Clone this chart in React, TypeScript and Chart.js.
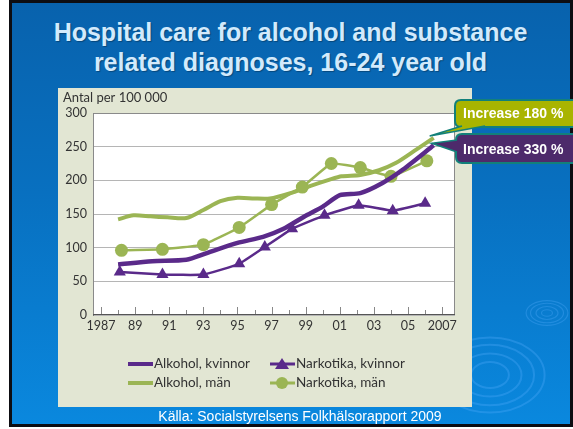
import React, { useEffect, useRef } from "react";
import { Chart, registerables } from "chart.js";
Chart.register(...registerables);

// ---- data ----
const yearTickValues = [1987, 1989, 1991, 1993, 1995, 1997, 1999, 2001, 2003, 2005, 2007];
const alkKvYears = [1988, 1990, 1992, 1993.2, 1995, 1996.5, 1997.7, 1998.9, 2000, 2001, 2002.2, 2003.5, 2004.7, 2006.5];
const alkKvValues = [75, 80, 82, 92, 107, 116, 128, 146, 161, 178, 181, 196, 216, 252];
const alkManYears = [1988, 1988.9, 1989.9, 1990.9, 1992, 1993, 1994, 1995, 1996, 1996.9, 1998.1, 1999.2, 2000.4, 2001.1, 2002.2, 2003.3, 2004.3, 2005.5, 2006.5];
const alkManValues = [142, 148, 146.5, 145, 144, 156, 169, 174, 173, 173, 181, 191, 201, 206, 208, 215, 226, 246, 263];
const narkKvYears = [1988.1, 1990.6, 1993, 1995.1, 1996.6, 1998.2, 2000.1, 2002.1, 2004.1, 2006];
const narkKvValues = [64, 60, 60, 76, 101, 128, 148, 163, 155, 166];
const narkManYears = [1988.2, 1990.6, 1993, 1995.1, 1997, 1998.8, 2000.5, 2002.2, 2004, 2006.1];
const narkManValues = [96, 97.5, 104.5, 130, 164, 190, 225, 219, 206, 229];

const seriesLabels = ["Alkohol, kvinnor", "Alkohol, män", "Narkotika, kvinnor", "Narkotika, män"];
const calloutTexts = ["Increase 180 %", "Increase 330 %"];
const yAxisTitle = "Antal per 100 000";
const titleLines = ["Hospital care for alcohol and substance", "related diagnoses, 16-24 year old"];
const sourceText = "Källa: Socialstyrelsens Folkhälsorapport 2009";

const PURPLE = "#5a2a8a";
const GREEN = "#9bb554";
const FONT = "Lato, 'Open Sans', sans-serif";

const zip = (xs: number[], ys: number[]) => xs.map((x, i) => ({ x, y: ys[i] }));

const decorPlugin = {
  id: "decor",
  beforeDraw(chart: any) {
    const { ctx, chartArea } = chart;
    ctx.save();
    // ripples
    ctx.strokeStyle = "rgba(90,175,255,0.3)";
    ctx.lineWidth = 2;
    [18, 30, 42, 52].forEach((r) => {
      ctx.beginPath();
      ctx.ellipse(490, 375, r * 1.05, r * 0.72, 0, 0, Math.PI * 2);
      ctx.stroke();
    });
    ctx.lineWidth = 1.2;
    [5, 10, 15, 19].forEach((r) => {
      ctx.beginPath();
      ctx.ellipse(547, 313, r * 1.1, r * 0.65, 0, 0, Math.PI * 2);
      ctx.stroke();
    });
    // panel
    ctx.fillStyle = "#e2e6d3";
    ctx.fillRect(58, 88, 414, 319);
    ctx.fillStyle = "#ffffff";
    ctx.fillRect(chartArea.left, chartArea.top, chartArea.right - chartArea.left, chartArea.bottom - chartArea.top);
    // y axis title
    ctx.fillStyle = "#333";
    ctx.font = `13px ${FONT}`;
    ctx.textBaseline = "middle";
    ctx.textAlign = "left";
    ctx.fillText(yAxisTitle, 63, 98);
    ctx.restore();
  },
  afterDraw(chart: any) {
    const { ctx, chartArea, scales } = chart;
    const xs = scales.x;
    ctx.save();
    // plot frame
    ctx.strokeStyle = "#8a8a8a";
    ctx.lineWidth = 1;
    ctx.beginPath();
    ctx.moveTo(chartArea.left + 0.5, chartArea.bottom);
    ctx.lineTo(chartArea.left + 0.5, chartArea.top + 0.5);
    ctx.lineTo(chartArea.right - 0.5, chartArea.top + 0.5);
    ctx.lineTo(chartArea.right - 0.5, chartArea.bottom);
    ctx.stroke();
    // minor ticks inside
    ctx.strokeStyle = "#888";
    for (let yr = 1987; yr <= 2007; yr++) {
      const px = Math.round(xs.getPixelForValue(yr)) + 0.5;
      const len = yr % 2 === 1 ? 8 : 5;
      ctx.beginPath();
      ctx.moveTo(px, chartArea.bottom);
      ctx.lineTo(px, chartArea.bottom - len);
      ctx.stroke();
    }
    ctx.strokeStyle = "#555";
    ctx.beginPath();
    ctx.moveTo(chartArea.left, chartArea.bottom - 0.5);
    ctx.lineTo(chartArea.right, chartArea.bottom - 0.5);
    ctx.stroke();

    // legend
    const rows = [364, 383];
    const items = [
      { i: 0, x: 128, row: 0 },
      { i: 2, x: 270, row: 0 },
      { i: 1, x: 128, row: 1 },
      { i: 3, x: 270, row: 1 },
    ];
    ctx.font = `13.5px ${FONT}`;
    ctx.textBaseline = "middle";
    ctx.textAlign = "left";
    items.forEach((it) => {
      const ds = chart.data.datasets[it.i];
      const y = rows[it.row];
      ctx.strokeStyle = ds.borderColor;
      ctx.lineWidth = it.i < 2 ? 4 : 3;
      ctx.beginPath();
      ctx.moveTo(it.x, y);
      ctx.lineTo(it.x + 25, y);
      ctx.stroke();
      if (it.i === 2) {
        ctx.fillStyle = PURPLE;
        ctx.beginPath();
        ctx.moveTo(it.x + 12, y - 6);
        ctx.lineTo(it.x + 19, y + 5);
        ctx.lineTo(it.x + 5, y + 5);
        ctx.closePath();
        ctx.fill();
      } else if (it.i === 3) {
        ctx.fillStyle = GREEN;
        ctx.beginPath();
        ctx.arc(it.x + 12, y, 6, 0, Math.PI * 2);
        ctx.fill();
      }
      ctx.fillStyle = "#333";
      ctx.fillText(ds.label, it.x + 26, y);
    });

    // callouts
    const ysc = scales.y;
    const gEnd = alkManYears.length - 1;
    const pEnd = alkKvYears.length - 1;
    const gTip = { x: xs.getPixelForValue(alkManYears[gEnd]) - 4, y: ysc.getPixelForValue(alkManValues[gEnd]) - 2 };
    const pTip = { x: xs.getPixelForValue(alkKvYears[pEnd]) - 2, y: ysc.getPixelForValue(alkKvValues[pEnd]) - 2 };
    const box = (x: number, y: number, w: number, h: number, fill: string) => {
      const r = 6;
      ctx.beginPath();
      ctx.moveTo(x + w, y);
      ctx.lineTo(x + r, y);
      ctx.quadraticCurveTo(x, y, x, y + r);
      ctx.lineTo(x, y + h - r);
      ctx.quadraticCurveTo(x, y + h, x + r, y + h);
      ctx.lineTo(x + w, y + h);
      ctx.fillStyle = fill;
      ctx.fill();
      ctx.strokeStyle = "#12807a";
      ctx.lineWidth = 2;
      ctx.stroke();
    };
    const wedge = (tip: any, a: any, b: any, fill: string) => {
      ctx.beginPath();
      ctx.moveTo(a.x, a.y);
      ctx.lineTo(tip.x, tip.y);
      ctx.lineTo(b.x, b.y);
      ctx.fillStyle = fill;
      ctx.fill();
      ctx.strokeStyle = "#12807a";
      ctx.lineWidth = 1.5;
      ctx.stroke();
    };
    box(455, 100, 120, 27, "#a9b400");
    wedge(gTip, { x: 462, y: 126 }, { x: 485, y: 126 }, "#a9b400");
    box(456, 134, 120, 29, "#4d2a6b");
    wedge(pTip, { x: 457, y: 140 }, { x: 457, y: 152 }, "#4d2a6b");
    ctx.fillStyle = "#ffffff";
    ctx.font = "bold 14px 'Liberation Sans', Arial, sans-serif";
    ctx.textAlign = "left";
    ctx.textBaseline = "middle";
    ctx.fillText(calloutTexts[0], 463, 114);
    ctx.fillText(calloutTexts[1], 463, 150);
    ctx.restore();
  },
};

export default function App() {
  const ref = useRef<HTMLCanvasElement | null>(null);
  useEffect(() => {
    if (!ref.current) return;
    const chart = new Chart(ref.current, {
      type: "line",
      data: {
        datasets: [
          { label: seriesLabels[0], data: zip(alkKvYears, alkKvValues), borderColor: PURPLE, backgroundColor: PURPLE, borderWidth: 4.5, pointRadius: 0, tension: 0.25, order: 1 },
          { label: seriesLabels[1], data: zip(alkManYears, alkManValues), borderColor: GREEN, backgroundColor: GREEN, borderWidth: 4, pointRadius: 0, tension: 0.25, order: 4 },
          { label: seriesLabels[2], data: zip(narkKvYears, narkKvValues), borderColor: PURPLE, backgroundColor: PURPLE, borderWidth: 2.5, pointRadius: 7, pointStyle: "triangle", pointBorderWidth: 0, tension: 0.1, order: 2 },
          { label: seriesLabels[3], data: zip(narkManYears, narkManValues), borderColor: GREEN, backgroundColor: GREEN, borderWidth: 2.5, pointRadius: 6.5, pointStyle: "circle", pointBorderWidth: 0, tension: 0.1, order: 3 },
        ] as any,
      },
      options: {
        responsive: false,
        animation: false,
        devicePixelRatio: 1,
        layout: { padding: { left: 63, right: 118, top: 113, bottom: 84 } },
        plugins: { legend: { display: false }, tooltip: { enabled: false }, title: { display: false } },
        scales: {
          x: {
            type: "linear",
            min: 1986.53,
            max: 2007.75,
            afterBuildTicks: (s: any) => { s.ticks = yearTickValues.map((v) => ({ value: v })); },
            afterFit: (s: any) => { s.height = 30; },
            grid: { display: false, drawTicks: false },
            border: { display: false },
            ticks: {
              padding: 3,
              color: "#333",
              font: { family: FONT, size: 12.5 },
              maxRotation: 0,
              autoSkip: false,
              callback: (v: any) => (v === 1987 || v === 2007 ? String(v) : String(v).slice(2)),
            },
          },
          y: {
            min: 0,
            max: 300,
            afterFit: (s: any) => { s.width = 30; },
            grid: { color: "#b5b5b5", drawTicks: false, lineWidth: 1 },
            border: { display: true, color: "#777" },
            ticks: { stepSize: 50, padding: 6, color: "#333", font: { family: FONT, size: 12.5 } },
          },
        },
      } as any,
      plugins: [decorPlugin],
    });
    return () => chart.destroy();
  }, []);

  return (
    <div style={{ position: "fixed", left: 0, top: 0, width: 573, height: 429, overflow: "hidden", background: "#fff" }}>
      <div
        style={{
          position: "absolute",
          left: 9,
          top: 0,
          width: 558,
          height: 421,
          border: "3px solid #0d0d12",
          background: "linear-gradient(#0862ad 0%, #0870c0 45%, #0a88de 100%)",
        }}
      />
      <div
        style={{
          position: "absolute",
          left: 0,
          top: 17,
          width: 581,
          textAlign: "center",
          color: "#d2eafc",
          font: "bold 25px 'Liberation Sans', Arial, sans-serif",
          lineHeight: "30px",
          textShadow: "1px 1px 1px rgba(0,0,0,0.3)",
        }}
      >
        {titleLines[0]}
        <br />
        {titleLines[1]}
      </div>
      <canvas ref={ref} width={573} height={429} style={{ position: "absolute", left: 0, top: 0, width: 573, height: 429 }} />
      <div
        style={{
          position: "absolute",
          left: 0,
          top: 408,
          width: 600,
          textAlign: "center",
          color: "#ffffff",
          font: "14px 'Liberation Sans', Arial, sans-serif",
          lineHeight: "16px",
        }}
      >
        {sourceText}
      </div>
    </div>
  );
}
